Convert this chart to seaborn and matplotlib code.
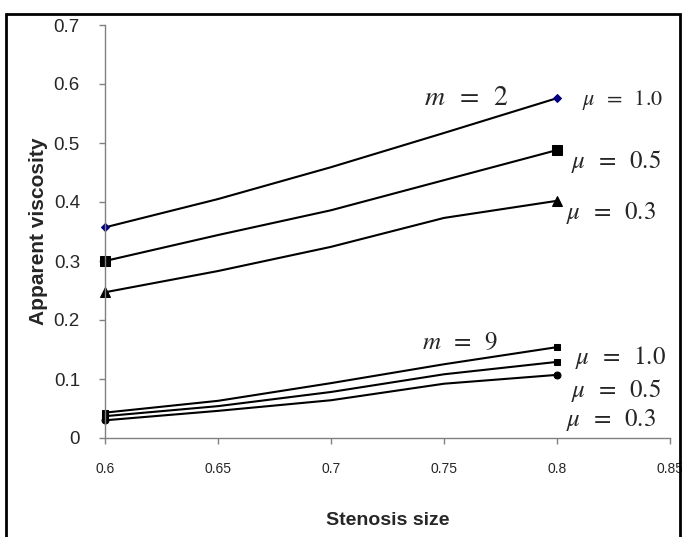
import numpy as np
import pandas as pd
import matplotlib
matplotlib.use("Agg")
import matplotlib.pyplot as plt
import seaborn as sns
from matplotlib.patches import Rectangle

stenosis = [0.6, 0.65, 0.7, 0.75, 0.8]

# apparent viscosity, m = 2
m2_mu10 = [0.357, 0.405, 0.459, 0.517, 0.576]
m2_mu05 = [0.300, 0.344, 0.386, 0.437, 0.488]
m2_mu03 = [0.247, 0.283, 0.324, 0.373, 0.402]

# apparent viscosity, m = 9
m9_mu10 = [0.043, 0.063, 0.093, 0.125, 0.154]
m9_mu05 = [0.037, 0.054, 0.078, 0.108, 0.129]
m9_mu03 = [0.030, 0.046, 0.064, 0.092, 0.107]

series = [
    (m2_mu10, "D", 4, "#000080"),
    (m2_mu05, "s", 7, "black"),
    (m2_mu03, "^", 7, "black"),
    (m9_mu10, "s", 4, "black"),
    (m9_mu05, "s", 4, "black"),
    (m9_mu03, "o", 5, "black"),
]

sns.set_theme(style="white")
plt.rcParams["font.family"] = ["Liberation Sans", "DejaVu Sans"]
plt.rcParams["mathtext.fontset"] = "stix"

fig = plt.figure(figsize=(6.82, 5.37), dpi=100)
ax = fig.add_axes([105 / 682, 1 - 438 / 537, (670 - 105) / 682, (438 - 25) / 537])

for vals, mk, ms, col in series:
    df = pd.DataFrame({"x": stenosis, "y": vals})
    sns.lineplot(data=df, x="x", y="y", ax=ax, color="black", linewidth=1.5,
                 marker=mk, markersize=ms, markerfacecolor=col,
                 markeredgecolor=col, markevery=[0, len(vals) - 1],
                 clip_on=False)

ax.set_xlim(0.6, 0.85)
ax.set_ylim(0, 0.7)
ax.set_xticks([0.6, 0.65, 0.7, 0.75, 0.8, 0.85])
ax.set_xticklabels(["0.6", "0.65", "0.7", "0.75", "0.8", "0.85"])
ax.set_yticks([0, 0.1, 0.2, 0.3, 0.4, 0.5, 0.6, 0.7])
ax.set_yticklabels(["0", "0.1", "0.2", "0.3", "0.4", "0.5", "0.6", "0.7"])
ax.tick_params(axis="x", direction="out", length=4, width=1, color="#808080",
               labelsize=10, pad=13, bottom=True)
ax.tick_params(axis="y", direction="out", length=4, width=1, color="#808080",
               labelsize=13.5, pad=14, left=True)

for side in ["top", "right"]:
    ax.spines[side].set_visible(False)
for side in ["left", "bottom"]:
    ax.spines[side].set_color("#808080")
    ax.spines[side].set_linewidth(1)

ax.set_xlabel("Stenosis size", fontsize=14, fontweight="bold", labelpad=26)
ax.set_ylabel("Apparent viscosity", fontsize=15, fontweight="bold", labelpad=4)

sp = r"\;\;"
labels = [
    (0.760, 0.576, r"$m" + sp + "=" + sp + "2$", 20),
    (0.829, 0.573, r"$\mu" + sp + "=" + sp + "1.0$", 16),
    (0.826, 0.468, r"$\mu" + sp + "=" + sp + "0.5$", 18),
    (0.824, 0.381, r"$\mu" + sp + "=" + sp + "0.3$", 18),
    (0.757, 0.163, r"$m" + sp + "=" + sp + "9$", 18),
    (0.828, 0.137, r"$\mu" + sp + "=" + sp + "1.0$", 18),
    (0.826, 0.081, r"$\mu" + sp + "=" + sp + "0.5$", 18),
    (0.824, 0.031, r"$\mu" + sp + "=" + sp + "0.3$", 18),
]
for x, y, s, fs in labels:
    ax.text(x, y, s, fontsize=fs, ha="center", va="center", clip_on=False)

# outer frame
fig.add_artist(Rectangle((6 / 682, -0.05), 674 / 682, 1 - 14 / 537 + 0.05,
                         transform=fig.transFigure, fill=False,
                         edgecolor="black", linewidth=2))

fig.savefig("out.png", dpi=100)
